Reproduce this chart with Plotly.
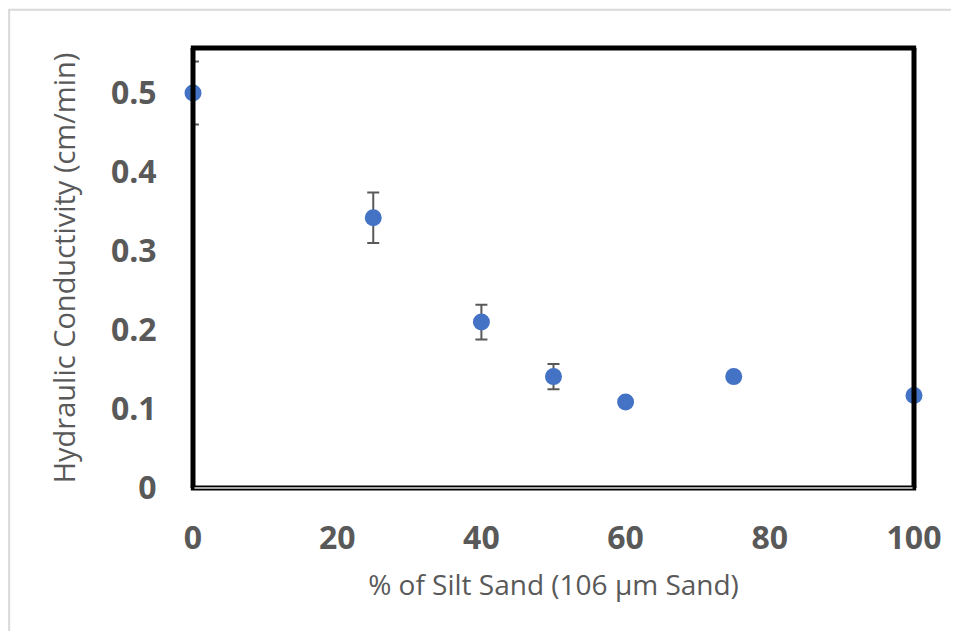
import plotly.graph_objects as go

silt_pct = [0, 25, 40, 50, 60, 75, 100]
hyd_cond = [0.500, 0.342, 0.210, 0.141, 0.109, 0.141, 0.117]
err = [0.040, 0.032, 0.022, 0.016, 0, 0, 0]

x_ticks = [0, 20, 40, 60, 80, 100]
y_ticks = [0, 0.1, 0.2, 0.3, 0.4, 0.5]
y_tick_text = ["0", "0.1", "0.2", "0.3", "0.4", "0.5"]

GRAY = "#595959"

fig = go.Figure()
fig.add_trace(go.Scatter(
    x=silt_pct, y=hyd_cond, mode="markers",
    marker=dict(color="#4472C4", size=17),
    error_y=dict(type="data", array=err, visible=True, color=GRAY, thickness=2, width=6),
    showlegend=False, cliponaxis=False,
))

tick_font = dict(family="Open Sans", size=32, color=GRAY, weight="bold")

fig.update_layout(
    width=951, height=623,
    margin=dict(l=185, r=45, t=40, b=143),
    paper_bgcolor="white", plot_bgcolor="white",
    xaxis=dict(range=[0, 100], tickvals=x_ticks, showgrid=False, zeroline=False,
               showline=False, ticks="outside", ticklen=22, tickcolor="rgba(0,0,0,0)",
               tickfont=tick_font,
               title=dict(text="% of Silt Sand (106 µm Sand)", standoff=17,
                          font=dict(family="Open Sans", size=28, color=GRAY))),
    yaxis=dict(range=[0, 0.557], tickvals=y_ticks, ticktext=y_tick_text, showgrid=False,
               zeroline=False, showline=False, ticks="outside", ticklen=29,
               tickcolor="rgba(0,0,0,0)", tickfont=tick_font,
               title=dict(text="Hydraulic Conductivity (cm/min)", standoff=26,
                          font=dict(family="Open Sans", size=29, color=GRAY))),
    shapes=[
        dict(type="rect", xref="paper", yref="paper", x0=-0.255, x1=1.3, y0=-0.6, y1=1.087,
             line=dict(color="#d9d9d9", width=2), layer="below"),
        dict(type="line", xref="paper", yref="paper", x0=0, x1=0, y0=0, y1=1,
             line=dict(color="black", width=5)),
        dict(type="line", xref="paper", yref="paper", x0=1, x1=1, y0=0, y1=1,
             line=dict(color="black", width=5)),
        dict(type="line", xref="paper", yref="paper", x0=-0.003, x1=1.003, y0=1, y1=1,
             line=dict(color="black", width=5)),
        dict(type="line", xref="paper", yref="paper", x0=-0.003, x1=1.003, y0=0, y1=0,
             line=dict(color="black", width=5)),
        dict(type="line", xref="paper", yref="paper", x0=0.002, x1=0.998, y0=0, y1=0,
             line=dict(color="#a6a6a6", width=2)),
    ],
)

fig.write_html("out.html")
